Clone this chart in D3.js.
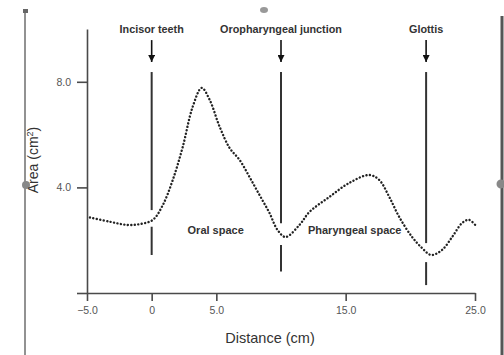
<!DOCTYPE html>
<html>
<head>
<meta charset="utf-8">
<script src="https://cdn.jsdelivr.net/npm/d3@7"></script>
<style>
  html, body { margin: 0; padding: 0; background: #fff; }
  svg { display: block; }
  text { font-family: "Liberation Sans", Arial, sans-serif; }
</style>
</head>
<body>
<svg id="chart" width="504" height="355"></svg>
<script>
// ---- data ----
const distance = [-4.77, -3.23, -1.92, -0.91, 0.09, 0.86, 1.63, 2.40, 3.17, 3.87, 4.49, 5.26, 6.03, 6.80, 7.57, 8.34, 9.11, 9.73, 10.35, 11.43, 12.20, 13.74, 15.28, 16.82, 17.60, 18.37, 19.14, 20.14, 20.91, 21.61, 22.45, 23.23, 24.00, 24.54, 25.15];
const area     = [2.86, 2.70, 2.58, 2.61, 2.77, 3.33, 4.28, 5.53, 7.05, 7.77, 7.31, 6.29, 5.49, 5.04, 4.39, 3.71, 3.03, 2.39, 2.12, 2.58, 3.07, 3.64, 4.17, 4.47, 4.28, 3.64, 2.88, 2.12, 1.70, 1.44, 1.63, 2.12, 2.65, 2.77, 2.50];
const xTicks = [-5, 0, 5, 15, 25];
const yTicks = [0, 4, 8];
const landmarkNames = ["Incisor teeth", "Oropharyngeal junction", "Glottis"];
const landmarkX = [0, 10, 21.22];
// each landmark line: upper segment [top, bottom] and lower segment [top, bottom] in area units
const landmarkUpper = [[8.37, 3.14], [8.37, 2.64], [8.37, 1.89]];
const landmarkLower = [[2.51, 1.44], [1.82, 0.81], [1.17, 0.30]];
const regionNames = ["Oral space", "Pharyngeal space"];
const regionX = [4.95, 15.7];
const regionY = [2.25, 2.22];

// ---- layout ----
const svg = d3.select("#chart");
const x = d3.scaleLinear().domain([-5, 25]).range([87, 475]);
const y = d3.scaleLinear().domain([0, 10]).range([293, 29]);
const axisColor = "#4a4a4a";

// scan-frame decorations
svg.append("line").attr("x1", 25).attr("x2", 25).attr("y1", 10).attr("y2", 355)
  .attr("stroke", "#777").attr("stroke-width", 1.6);
svg.append("rect").attr("x", 23).attr("y", 9).attr("width", 5).attr("height", 4).attr("fill", "#666");
svg.append("circle").attr("cx", 26).attr("cy", 185).attr("r", 4).attr("fill", "#888");
svg.append("line").attr("x1", 502).attr("x2", 502).attr("y1", 16).attr("y2", 355)
  .attr("stroke", "#555").attr("stroke-width", 3);
svg.append("circle").attr("cx", 501).attr("cy", 184).attr("r", 4.5).attr("fill", "#888");
svg.append("ellipse").attr("cx", 264).attr("cy", 10).attr("rx", 4).attr("ry", 3).attr("fill", "#999");

// axes
const fmt = d => d === 0 ? "0" : d3.format(".1f")(d);
const gx = svg.append("g").attr("transform", `translate(0,${y(0)})`)
  .call(d3.axisBottom(x).tickValues(xTicks).tickFormat(fmt).tickSize(8).tickSizeOuter(0).tickPadding(6));
const gy = svg.append("g").attr("transform", `translate(${x(-5)},0)`)
  .call(d3.axisLeft(y).tickValues(yTicks).tickFormat(d => d === 0 ? "" : d3.format(".1f")(d)).tickSize(10).tickSizeOuter(0).tickPadding(6));
[gx, gy].forEach(g => {
  g.select(".domain").attr("stroke", axisColor).attr("stroke-width", 1.6);
  g.selectAll(".tick line").attr("stroke", axisColor).attr("stroke-width", 1.6);
  g.selectAll(".tick text").attr("fill", "#555").style("font-size", "10.5px")
    .style("font-family", "'Liberation Sans', Arial, sans-serif");
});

// axis titles
svg.append("text").attr("x", 270).attr("y", 343).attr("text-anchor", "middle")
  .style("font-size", "14.5px").attr("fill", "#333").text("Distance  (cm)");
svg.append("text").attr("transform", "translate(38,160) rotate(-90)").attr("text-anchor", "middle")
  .style("font-size", "14px").attr("fill", "#333")
  .html('Area  (cm<tspan dy="-5" font-size="9">2</tspan><tspan dy="5">)</tspan>');

// landmark lines, arrows, labels
const defs = svg.append("defs");
defs.append("marker").attr("id", "ah").attr("viewBox", "0 0 10 10").attr("refX", 10).attr("refY", 5)
  .attr("markerWidth", 7).attr("markerHeight", 7).attr("markerUnits", "userSpaceOnUse").attr("orient", "auto")
  .append("path").attr("d", "M0,0 L10,5 L0,10 Z").attr("fill", "#111");

landmarkX.forEach((lx, i) => {
  const px = x(lx);
  [landmarkUpper[i], landmarkLower[i]].forEach(seg => {
    svg.append("line").attr("x1", px).attr("x2", px).attr("y1", y(seg[0])).attr("y2", y(seg[1]))
      .attr("stroke", "#333").attr("stroke-width", 2);
  });
  svg.append("line").attr("x1", px).attr("x2", px).attr("y1", y(9.58)).attr("y2", y(8.75))
    .attr("stroke", "#111").attr("stroke-width", 1.6).attr("marker-end", "url(#ah)");
  svg.append("text").attr("x", px).attr("y", 33).attr("text-anchor", "middle")
    .style("font-size", "10.8px").style("font-weight", "bold").attr("fill", "#333").text(landmarkNames[i]);
});

// region labels
regionNames.forEach((n, i) => {
  svg.append("text").attr("x", x(regionX[i])).attr("y", y(regionY[i])).attr("text-anchor", "middle")
    .style("font-size", "11px").style("font-weight", "bold").attr("fill", "#333").text(n);
});

// dotted area curve
const line = d3.line().x((d, i) => x(distance[i])).y((d, i) => y(area[i])).curve(d3.curveCatmullRom.alpha(0.5));
svg.append("path").attr("d", line(area)).attr("fill", "none").attr("stroke", "#222")
  .attr("stroke-width", 2.4).attr("stroke-linecap", "round").attr("stroke-dasharray", "0.1 3.4");
</script>
</body>
</html>
